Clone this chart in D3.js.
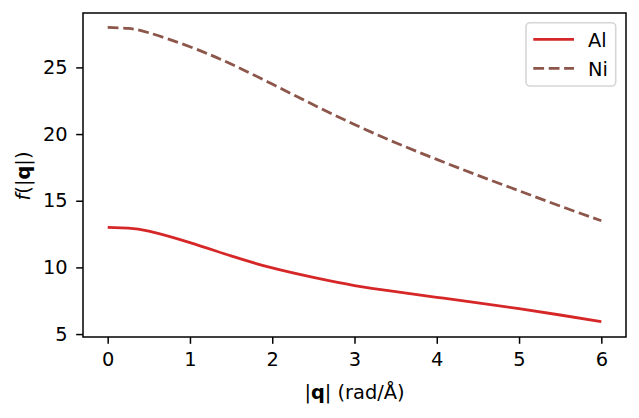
<!DOCTYPE html>
<html><head><meta charset="utf-8">
<script src="https://cdn.jsdelivr.net/npm/d3@7"></script>
<style>body{margin:0;background:#fff}svg{display:block}text{font-family:"DejaVu Sans",sans-serif}</style>
</head><body><svg id="c" width="639" height="418"></svg>
<script>
const qValues = [0, 0.25, 0.5, 1, 1.5, 2, 2.5, 3, 3.5, 4, 4.5, 5, 5.5, 6];
const alValues = [13, 12.94, 12.72, 11.86, 10.86, 9.96, 9.25, 8.64, 8.18, 7.76, 7.34, 6.9, 6.43, 5.93];
const niValues = [28, 27.92, 27.6, 26.55, 25.25, 23.75, 22.2, 20.72, 19.35, 18.1, 16.9, 15.75, 14.6, 13.5];
const xTicks = [0, 1, 2, 3, 4, 5, 6];
const yTicks = [5, 10, 15, 20, 25];
const seriesNames = ["Al", "Ni"];

const FS = "19.4px";
const svg = d3.select("#c");
const L = 83, R = 626, T = 13, B = 337;
const x = d3.scaleLinear().domain([-0.3, 6.3]).range([L, R]);
const y = d3.scaleLinear().domain([4.78, 29.08]).range([B, T]);

const line = d3.line().x(d => x(d[0])).y(d => y(d[1])).curve(d3.curveNatural);
const DASH = "10.8,4.6";
const series = [
  {name: seriesNames[0], vals: alValues, color: "#d62728", dash: null},
  {name: seriesNames[1], vals: niValues, color: "#8c564b", dash: DASH}
];
svg.append("clipPath").attr("id","cl").append("rect").attr("x",L).attr("y",T).attr("width",R-L).attr("height",B-T);
series.forEach(s => {
  svg.append("path").datum(qValues.map((q,i)=>[q, s.vals[i]]))
    .attr("d", line).attr("fill","none").attr("stroke", s.color)
    .attr("stroke-width", 2.8).attr("stroke-dasharray", s.dash)
    .attr("clip-path","url(#cl)");
});

const xa = svg.append("g").attr("transform", `translate(0,${B})`)
  .call(d3.axisBottom(x).tickValues(xTicks).tickSize(6.8).tickPadding(8).tickFormat(d3.format("d")));
const ya = svg.append("g").attr("transform", `translate(${L},0)`)
  .call(d3.axisLeft(y).tickValues(yTicks).tickSize(6.8).tickPadding(8.5).tickFormat(d3.format("d")));
[xa, ya].forEach(a => {
  a.select(".domain").remove();
  a.selectAll(".tick line").attr("stroke","#000").attr("stroke-width",1.5);
  a.selectAll(".tick text").attr("font-size",FS).attr("fill","#000").attr("font-family","DejaVu Sans");
});
svg.append("rect").attr("x",L).attr("y",T).attr("width",R-L).attr("height",B-T)
  .attr("fill","none").attr("stroke","#000").attr("stroke-width",1.5);

// x label
const xl = svg.append("text").attr("x", (L+R)/2).attr("y", 398.5).attr("text-anchor","middle").attr("font-size",FS);
xl.append("tspan").text("|");
xl.append("tspan").attr("font-weight","bold").text("q");
xl.append("tspan").text("| (rad/Å)");
// y label
const yl = svg.append("text").attr("transform","translate(29.5,176) rotate(-90)").attr("text-anchor","middle").attr("font-size",FS);
yl.append("tspan").attr("font-style","italic").text("f");
yl.append("tspan").text("(|");
yl.append("tspan").attr("font-weight","bold").text("q");
yl.append("tspan").text("|)");

// legend
const lg = svg.append("g");
lg.append("rect").attr("x",526).attr("y",22.7).attr("width",89.7).attr("height",63.3).attr("rx",4)
  .attr("fill","#fff").attr("fill-opacity",0.8).attr("stroke","#d6d6d6").attr("stroke-width",1.6);
series.forEach((s,i) => {
  const yy = 39.3 + i*29;
  lg.append("line").attr("x1",533.3).attr("x2",574).attr("y1",yy).attr("y2",yy)
    .attr("stroke",s.color).attr("stroke-width",2.8)
    .attr("stroke-dasharray", s.dash);
  lg.append("text").attr("x",588).attr("y",yy+7.8).attr("font-size",FS).text(s.name);
});
</script></body></html>
